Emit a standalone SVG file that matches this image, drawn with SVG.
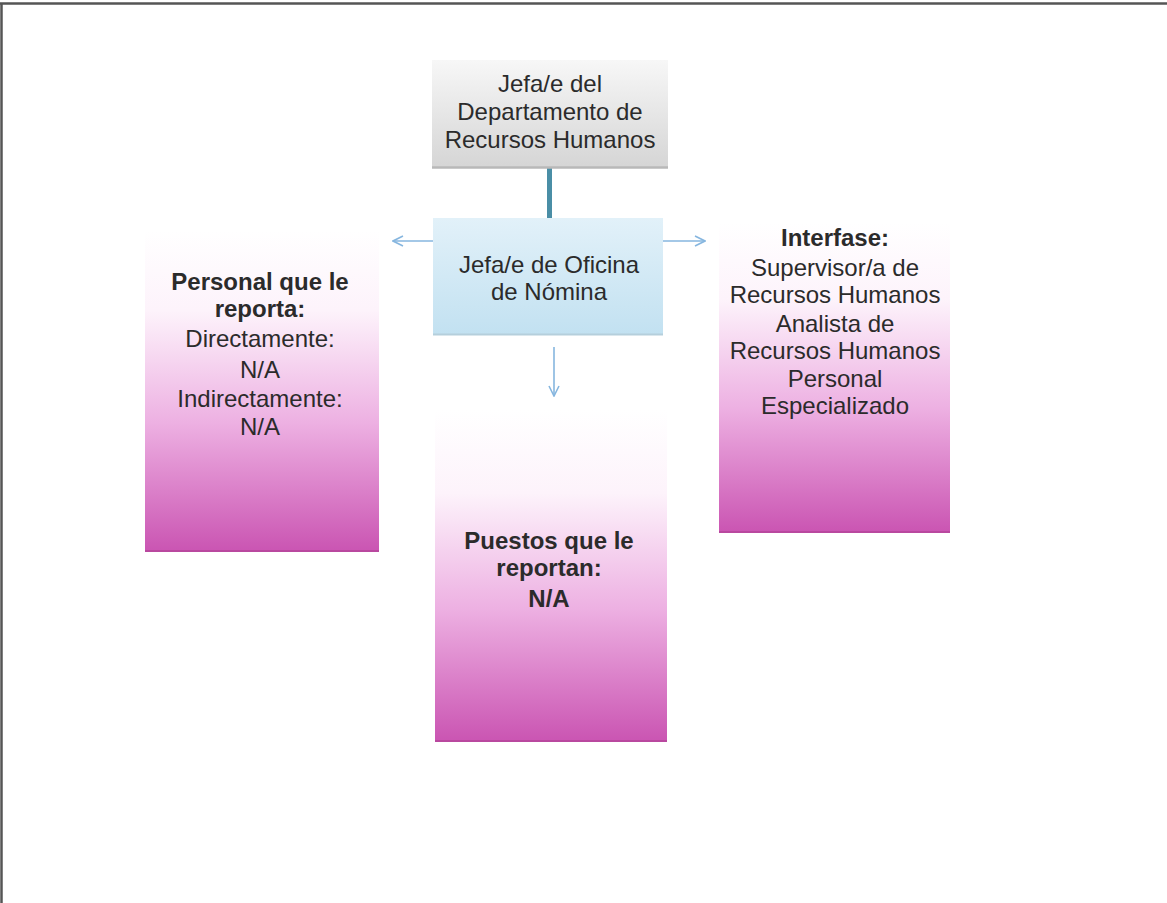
<svg xmlns="http://www.w3.org/2000/svg" width="1167" height="903" viewBox="0 0 1167 903">
<style>
  text { font-family: "Liberation Sans", Arial, sans-serif; font-size: 24px; fill: #2b2b2b; text-anchor: middle; }
  .b { font-weight: bold; }
  .arrow { stroke: #86b6df; stroke-width: 1.6; fill: none; }
  .frame { stroke: #555; stroke-width: 2.5; fill: none; }
</style>
<defs>
  <linearGradient id="gGray" x1="0" y1="0" x2="0" y2="1">
    <stop offset="0" stop-color="#f7f7f7"/>
    <stop offset="1" stop-color="#d5d5d5"/>
  </linearGradient>
  <linearGradient id="gBlue" x1="0" y1="0" x2="0" y2="1">
    <stop offset="0" stop-color="#e2f1f9"/>
    <stop offset="1" stop-color="#c2e1f1"/>
  </linearGradient>
  <linearGradient id="gPink" x1="0" y1="0" x2="0" y2="1">
    <stop offset="0" stop-color="#ffffff"/>
    <stop offset="0.25" stop-color="#fdf3fb"/>
    <stop offset="0.6" stop-color="#edb0e2"/>
    <stop offset="1" stop-color="#ca54b2"/>
  </linearGradient>
  <marker id="open" viewBox="0 0 12 12" refX="11" refY="6" markerWidth="12" markerHeight="12" markerUnits="userSpaceOnUse" orient="auto">
    <polyline points="1,1 11,6 1,11" fill="none" stroke="#86b6df" stroke-width="1.6"/>
  </marker>
</defs>
<rect width="1167" height="903" fill="#ffffff"/>
<path class="frame" d="M0,3.5 H1167 M1.5,3.5 V903"/>

<g id="connectors">
  <line x1="549.5" y1="168" x2="549.5" y2="218" stroke="#4a8ea6" stroke-width="5"/>
  <line class="arrow" x1="433" y1="241" x2="393" y2="241" marker-end="url(#open)"/>
  <line class="arrow" x1="663" y1="241" x2="705" y2="241" marker-end="url(#open)"/>
  <line class="arrow" x1="554" y1="347" x2="554" y2="396" marker-end="url(#open)"/>
</g>

<g id="node-jefe-depto">
  <rect x="432" y="60" width="236" height="108" fill="url(#gGray)"/>
  <line x1="432" y1="167.5" x2="668" y2="167.5" stroke="#b8b8b8" stroke-width="2.5"/>
  <text x="550" y="92">Jefa/e del</text>
  <text x="550" y="120">Departamento de</text>
  <text x="550" y="148">Recursos Humanos</text>
</g>

<g id="node-jefe-nomina">
  <rect x="433" y="218" width="230" height="117" fill="url(#gBlue)"/>
  <line x1="433" y1="334.5" x2="663" y2="334.5" stroke="#b5cfdc" stroke-width="2"/>
  <text x="549" y="273">Jefa/e de Oficina</text>
  <text x="549" y="300">de Nómina</text>
</g>

<g id="node-personal">
  <rect x="145" y="230" width="234" height="322" fill="url(#gPink)"/>
  <line x1="145" y1="551" x2="379" y2="551" stroke="#b9489f" stroke-width="2"/>
  <text class="b" x="260" y="290">Personal que le</text>
  <text class="b" x="260" y="317">reporta:</text>
  <text x="260" y="347">Directamente:</text>
  <text x="260" y="378">N/A</text>
  <text x="260" y="407">Indirectamente:</text>
  <text x="260" y="435">N/A</text>
</g>

<g id="node-interfase">
  <rect x="719" y="222" width="231" height="311" fill="url(#gPink)"/>
  <line x1="719" y1="532" x2="950" y2="532" stroke="#b9489f" stroke-width="2"/>
  <text class="b" x="835" y="246">Interfase:</text>
  <text x="835" y="276">Supervisor/a de</text>
  <text x="835" y="303">Recursos Humanos</text>
  <text x="835" y="332">Analista de</text>
  <text x="835" y="359">Recursos Humanos</text>
  <text x="835" y="387">Personal</text>
  <text x="835" y="414">Especializado</text>
</g>

<g id="node-puestos">
  <rect x="435" y="410" width="232" height="332" fill="url(#gPink)"/>
  <line x1="435" y1="741" x2="667" y2="741" stroke="#b9489f" stroke-width="2"/>
  <text class="b" x="549" y="549">Puestos que le</text>
  <text class="b" x="549" y="576">reportan:</text>
  <text class="b" x="549" y="607">N/A</text>
</g>
</svg>
